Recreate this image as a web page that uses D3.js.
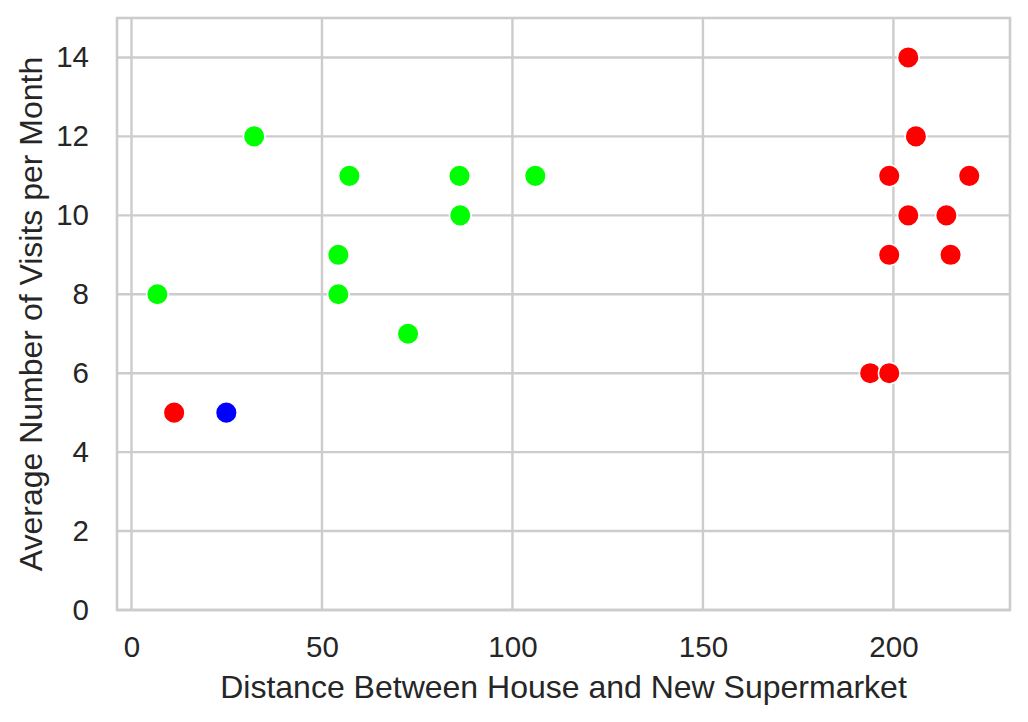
<!DOCTYPE html>
<html>
<head>
<meta charset="utf-8">
<script src="https://cdn.jsdelivr.net/npm/d3@7"></script>
<style>
  body { margin: 0; background: #fff; }
  text { font-family: "Liberation Sans", Arial, sans-serif; fill: #262626; }
</style>
</head>
<body>
<div id="chart"></div>
<script>
// data
const distance = [6.8, 32.2, 57.2, 86.1, 106.0, 86.3, 54.3, 54.3, 72.6,
                  11.2, 203.9, 205.9, 198.9, 219.9, 203.9, 213.9, 198.9, 215.0, 193.9, 198.9,
                  24.9];
const visits = [8, 12, 11, 11, 11, 10, 9, 8, 7,
                5, 14, 12, 11, 11, 10, 10, 9, 9, 6, 6,
                5];
const group = ["g", "g", "g", "g", "g", "g", "g", "g", "g",
               "r", "r", "r", "r", "r", "r", "r", "r", "r", "r", "r",
               "b"];
const xTicks = [0, 50, 100, 150, 200];
const yTicks = [0, 2, 4, 6, 8, 10, 12, 14];

const COLORS = {g: "#00ff00", r: "#ff0000", b: "#0000ff"};
const GRID = "#cccccc";

const width = 1028, height = 722;
const margin = {top: 18, right: 18, bottom: 112, left: 117};

let svg = d3.select("#chart")
    .append("svg")
    .attr("width", width)
    .attr("height", height);

let x = d3.scaleLinear()
    .domain([-3.8, 230.6])
    .range([margin.left, width - margin.right]);
let y = d3.scaleLinear()
    .domain([0, 15])
    .range([height - margin.bottom, margin.top]);

// grid
svg.append("g").selectAll("line").data(xTicks).enter()
    .append("line")
    .attr("x1", d => x(d)).attr("x2", d => x(d))
    .attr("y1", margin.top).attr("y2", height - margin.bottom)
    .attr("stroke", GRID).attr("stroke-width", 2.4);
svg.append("g").selectAll("line").data(yTicks).enter()
    .append("line")
    .attr("x1", margin.left).attr("x2", width - margin.right)
    .attr("y1", d => y(d)).attr("y2", d => y(d))
    .attr("stroke", GRID).attr("stroke-width", 2.4);

// frame
svg.append("rect")
    .attr("x", margin.left).attr("y", margin.top)
    .attr("width", width - margin.left - margin.right)
    .attr("height", height - margin.top - margin.bottom)
    .attr("fill", "none").attr("stroke", GRID).attr("stroke-width", 2.6);

// axes (ticks only as labels)
let xAxis = svg.append("g")
    .attr("transform", `translate(0, ${height - margin.bottom})`)
    .call(d3.axisBottom(x).tickValues(xTicks).tickSize(0).tickPadding(26));
let yAxis = svg.append("g")
    .attr("transform", `translate(${margin.left}, 0)`)
    .call(d3.axisLeft(y).tickValues(yTicks).tickSize(0).tickPadding(28));
[xAxis, yAxis].forEach(a => {
    a.select(".domain").remove();
    a.selectAll("text")
        .style("font-family", "'Liberation Sans', Arial, sans-serif")
        .style("font-size", "29.5px")
        .attr("fill", "#262626");
});

// points
let idx = d3.range(distance.length);
svg.append("g").selectAll("circle").data(idx).enter()
    .append("circle")
    .attr("cx", i => x(distance[i]))
    .attr("cy", i => y(visits[i]))
    .attr("r", 10.8)
    .attr("fill", i => COLORS[group[i]])
    .attr("stroke", "#fff")
    .attr("stroke-width", 1.5);

// labels
svg.append("text")
    .attr("x", (margin.left + width - margin.right) / 2)
    .attr("y", 698)
    .style("text-anchor", "middle")
    .style("font-size", "32px")
    .text("Distance Between House and New Supermarket");
svg.append("text")
    .attr("transform", `translate(42, ${(margin.top + height - margin.bottom) / 2}) rotate(-90)`)
    .style("text-anchor", "middle")
    .style("font-size", "32px")
    .text("Average Number of Visits per Month");
</script>
</body>
</html>
